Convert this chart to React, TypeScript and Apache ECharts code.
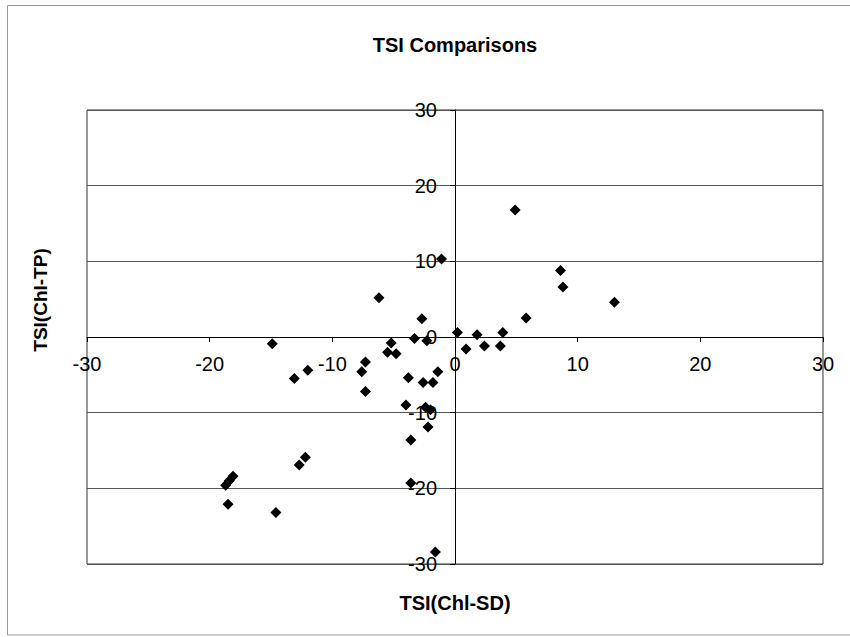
import React, { useEffect, useRef } from "react";
import * as echarts from "echarts";

// TSI(Chl-SD) values (x) and TSI(Chl-TP) values (y)
const sdValues = [
  -1.1, -6.2, -2.7, -3.3, -2.3, 0.2, -14.9, -5.2, -5.5, -4.8,
  4.9, 8.6, 8.8, 13.0, 5.8, 1.8, 3.9, 0.9, 2.4, 3.7,
  -7.3, -7.6, -7.3, -12.0, -13.1, -3.8, -2.6, -1.8, -1.4, -4.0,
  -2.4, -2.0, -2.2, -3.6, -12.2, -12.7, -18.1, -18.4, -18.7, -18.5,
  -14.6, -3.6, -1.6,
];
const tpValues = [
  10.3, 5.2, 2.4, -0.2, -0.5, 0.6, -0.9, -0.8, -2.0, -2.2,
  16.8, 8.8, 6.6, 4.6, 2.5, 0.3, 0.6, -1.6, -1.2, -1.2,
  -3.3, -4.6, -7.2, -4.4, -5.5, -5.4, -6.0, -6.0, -4.6, -9.0,
  -9.3, -9.6, -11.9, -13.6, -15.9, -16.9, -18.4, -19.0, -19.6, -22.1,
  -23.2, -19.3, -28.4,
];

const axisMin = -30;
const axisMax = 30;
const axisStep = 10;

const titleText = "TSI Comparisons";
const xTitle = "TSI(Chl-SD)";
const yTitle = "TSI(Chl-TP)";

const FONT = "'Liberation Sans', Arial, sans-serif";

// grid geometry
const GRID_LEFT = 87;
const GRID_RIGHT = 27;
const GRID_TOP = 110;
const GRID_BOTTOM = 73;
const W = 850;
const H = 637;

export default function App() {
  const ref = useRef<HTMLDivElement>(null);

  useEffect(() => {
    if (!ref.current) return;
    const chart = echarts.init(ref.current, null, { renderer: "svg" });
    const data = sdValues.map((x, i) => [x, tpValues[i]]);
    const plotW = W - GRID_LEFT - GRID_RIGHT;
    const plotH = H - GRID_TOP - GRID_BOTTOM;
    // move the axes from the grid edges to the zero lines
    const xOffset = -plotH * ((0 - axisMin) / (axisMax - axisMin));
    const yOffset = -plotW * ((0 - axisMin) / (axisMax - axisMin));
    chart.setOption({
      animation: false,
      backgroundColor: "#fff",
      grid: {
        left: GRID_LEFT,
        right: GRID_RIGHT,
        top: GRID_TOP,
        bottom: GRID_BOTTOM,
        show: true,
        borderColor: "#333",
        borderWidth: 1,
        containLabel: false,
      },
      xAxis: {
        type: "value",
        min: axisMin,
        max: axisMax,
        interval: axisStep,
        position: "bottom",
        offset: xOffset,
        axisLine: { show: true, onZero: false, lineStyle: { color: "#000", width: 1 } },
        axisTick: { show: true, length: 5, lineStyle: { color: "#000" } },
        splitLine: { show: false },
        axisLabel: {
          margin: 17,
          fontSize: 20,
          color: "#000",
          fontFamily: FONT,
          showMinLabel: true,
          showMaxLabel: true,
        },
      },
      yAxis: {
        type: "value",
        min: axisMin,
        max: axisMax,
        interval: axisStep,
        position: "left",
        offset: yOffset,
        axisLine: { show: true, onZero: false, lineStyle: { color: "#000", width: 1 } },
        axisTick: { show: true, length: 5, lineStyle: { color: "#000" } },
        splitLine: { show: true, lineStyle: { color: "#555", width: 1 } },
        axisLabel: {
          margin: 18,
          fontSize: 20,
          color: "#000",
          fontFamily: FONT,
          showMinLabel: true,
          showMaxLabel: true,
        },
      },
      series: [
        {
          type: "scatter",
          data,
          symbol: "diamond",
          symbolSize: 11,
          itemStyle: { color: "#000", opacity: 1 },
          z: 5,
        },
      ],
      graphic: [
        {
          type: "rect",
          shape: { x: 7.5, y: 5.5, width: 860, height: 629.5 },
          style: { fill: "none", stroke: "#999", lineWidth: 1 },
          silent: true,
          z: -1,
        },
        {
          type: "text",
          x: 455,
          y: 45,
          style: {
            text: titleText,
            align: "center",
            verticalAlign: "middle",
            font: `bold 20px ${FONT}`,
            fill: "#000",
          },
        },
        {
          type: "text",
          x: 455,
          y: 603,
          style: {
            text: xTitle,
            align: "center",
            verticalAlign: "middle",
            font: `bold 20px ${FONT}`,
            fill: "#000",
          },
        },
        {
          type: "text",
          x: 40,
          y: 300,
          rotation: Math.PI / 2,
          style: {
            text: yTitle,
            align: "center",
            verticalAlign: "middle",
            font: `bold 19px ${FONT}`,
            fill: "#000",
          },
        },
      ],
    });
    return () => chart.dispose();
  }, []);

  return (
    <div
      ref={ref}
      style={{ position: "fixed", left: 0, top: 0, width: W, height: H }}
    />
  );
}
